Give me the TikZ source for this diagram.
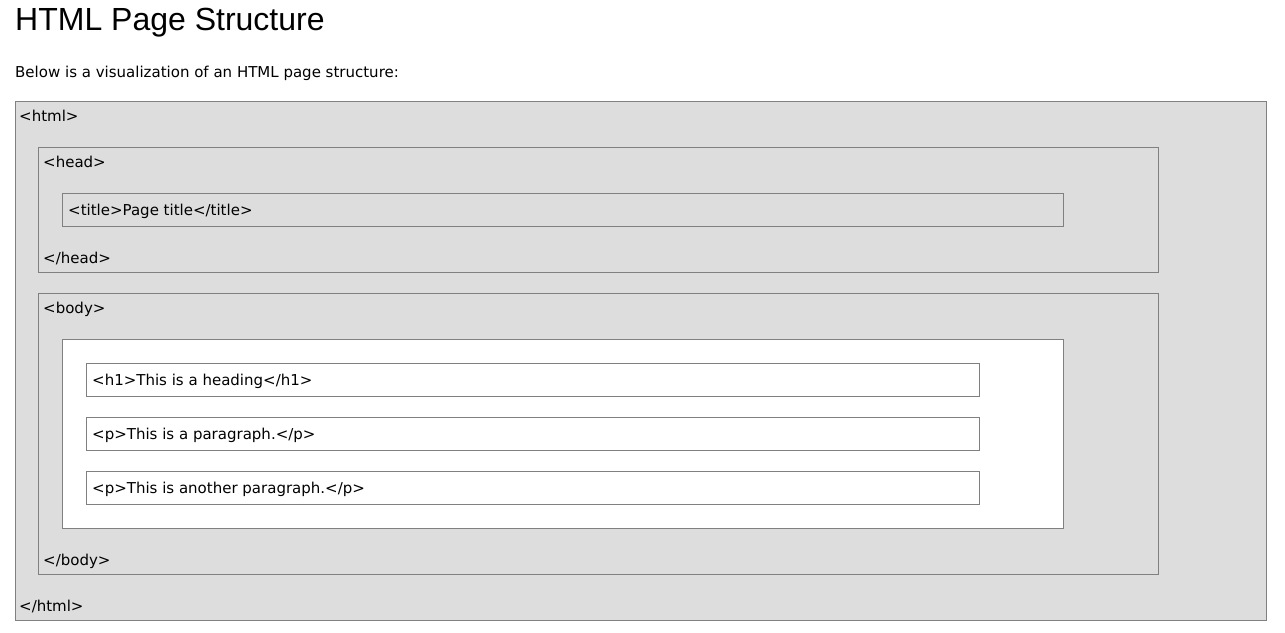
\documentclass[tikz,border=0pt]{standalone}
\usepackage{fontspec}
\setmainfont{DejaVu Sans}
\newfontfamily\titlefont{Liberation Sans}
\definecolor{boxgray}{HTML}{DDDDDD}
\definecolor{linegray}{HTML}{808080}
\begin{document}
\begin{tikzpicture}[x=1pt,y=-1pt,
  box/.style={draw=linegray, line width=1pt, anchor=north west, inner sep=0pt, outer sep=0pt},
  gbox/.style={box, fill=boxgray},
  wbox/.style={box, fill=white},
  lbl/.style={anchor=base west, inner sep=0pt, font=\fontsize{15}{18}\selectfont, text=black}]
\useasboundingbox (0,0) rectangle (1285,632);
\fill[white] (0,0) rectangle (1285,632);
\node[anchor=base west, inner sep=0pt, font=\titlefont\fontsize{32}{38}\selectfont] (title) at (15,30.5) {HTML Page Structure};
\node[lbl] (intro) at (15,77.5) {Below is a visualization of an HTML page structure:};
\node[gbox, minimum width=1251pt, minimum height=519pt] (html) at (15,101) {};
\node[gbox, minimum width=1120pt, minimum height=125pt] (head) at (38,147.5) {};
\node[gbox, minimum width=1001pt, minimum height=33pt] (titlebox) at (62,193.5) {};
\node[gbox, minimum width=1120pt, minimum height=281pt] (body) at (38,293.5) {};
\node[wbox, minimum width=1001pt, minimum height=189pt] (div) at (62,339.5) {};
\node[wbox, minimum width=893pt, minimum height=33pt] (h1) at (86,363.5) {};
\node[wbox, minimum width=893pt, minimum height=33pt] (p1) at (86,417.5) {};
\node[wbox, minimum width=893pt, minimum height=33pt] (p2) at (86,471.5) {};
\node[lbl] (htmlopen) at (19,121.5) {<html>};
\node[lbl] (headopen) at (43,167.5) {<head>};
\node[lbl] (titletext) at (68,215.5) {<title>Page title</title>};
\node[lbl] (headclose) at (43,263.5) {</head>};
\node[lbl] (bodyopen) at (43,313.5) {<body>};
\node[lbl] (h1text) at (92,385.5) {<h1>This is a heading</h1>};
\node[lbl] (p1text) at (92,439.5) {<p>This is a paragraph.</p>};
\node[lbl] (p2text) at (92,493.5) {<p>This is another paragraph.</p>};
\node[lbl] (bodyclose) at (43,565.5) {</body>};
\node[lbl] (htmlclose) at (19,611.5) {</html>};
\end{tikzpicture}
\end{document}
